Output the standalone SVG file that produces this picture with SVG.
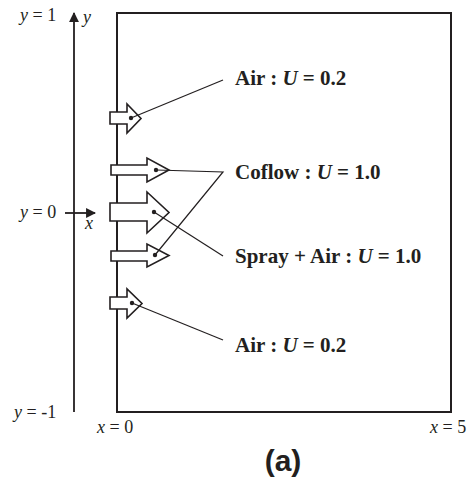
<svg xmlns="http://www.w3.org/2000/svg" width="472" height="480" viewBox="0 0 472 480">
<style>
.ln{stroke:#231f20;fill:none}
.ax{stroke:#231f20;stroke-width:1.8;fill:none}
.jet{stroke:#231f20;stroke-width:1.6;fill:#fff;stroke-linejoin:miter}
.dot{fill:#231f20}
.lead{stroke:#231f20;stroke-width:1.2;fill:none}
.tm{font-family:"Liberation Serif","Times New Roman",serif;font-size:18px;fill:#231f20}
.lb{font-family:"Liberation Serif","Times New Roman",serif;font-size:21px;font-weight:bold;fill:#231f20}
.it{font-style:italic}
.cap{font-family:"Liberation Sans",Arial,sans-serif;font-size:30px;font-weight:bold;fill:#231f20}
</style>
<defs>
<marker id="ah" viewBox="0 0 10 10" refX="9" refY="5" markerWidth="5.5" markerHeight="5.5" orient="auto" markerUnits="strokeWidth">
<path d="M0,0 L10,5 L0,10 z" fill="#231f20"/>
</marker>
</defs>
<g id="domain">
<rect x="117" y="13" width="334" height="399" fill="none" stroke="#231f20" stroke-width="2"/>
</g>
<g id="axes">
<line class="ax" x1="74" y1="412" x2="74" y2="13" marker-end="url(#ah)"/>
<line class="ax" x1="65" y1="213" x2="95" y2="213" marker-end="url(#ah)"/>
<text class="tm" x="20" y="21"><tspan class="it">y</tspan> = 1</text>
<text class="tm it" x="83" y="23">y</text>
<text class="tm" x="20" y="218"><tspan class="it">y</tspan> = 0</text>
<text class="tm it" x="85" y="229">x</text>
<text class="tm" x="14" y="418"><tspan class="it">y</tspan> = -1</text>
<text class="tm" x="97" y="433"><tspan class="it">x</tspan> = 0</text>
<text class="tm" x="430" y="433"><tspan class="it">x</tspan> = 5</text>
</g>
<g id="jet-air-top">
<polygon class="jet" points="110,112 127,112 127,104 141,118.5 127,133 127,124 110,124"/>
<circle class="dot" cx="131" cy="118" r="2.2"/>
</g>
<g id="jet-coflow-top">
<polygon class="jet" points="111,165 147,165 147,158 169,170 147,182 147,175 111,175"/>
<circle class="dot" cx="156" cy="170" r="2.2"/>
</g>
<g id="jet-spray">
<polygon class="jet" points="110,203 147,203 147,192 169,212.5 147,233 147,221 110,221"/>
<circle class="dot" cx="154" cy="212" r="2.2"/>
</g>
<g id="jet-coflow-bottom">
<polygon class="jet" points="111,251 147,251 147,244 169,255.5 147,267 147,261 111,261"/>
<circle class="dot" cx="155" cy="255" r="2.2"/>
</g>
<g id="jet-air-bottom">
<polygon class="jet" points="110,297 127,297 127,289 142,303.5 127,318 127,309 110,309"/>
<circle class="dot" cx="132" cy="303" r="2.2"/>
</g>
<g id="connectors">
<line class="lead" x1="131" y1="118" x2="223" y2="80"/>
<polyline class="lead" points="156,170 223,172 155,255"/>
<line class="lead" x1="154" y1="212" x2="223" y2="256"/>
<line class="lead" x1="132" y1="303" x2="223" y2="340"/>
</g>
<g id="label-air-top">
<text class="lb" x="235" y="85">Air : <tspan class="it">U</tspan> = 0.2</text>
</g>
<g id="label-coflow">
<text class="lb" x="235" y="179">Coflow : <tspan class="it">U</tspan> = 1.0</text>
</g>
<g id="label-spray">
<text class="lb" x="235" y="263">Spray + Air : <tspan class="it">U</tspan> = 1.0</text>
</g>
<g id="label-air-bottom">
<text class="lb" x="235" y="352">Air : <tspan class="it">U</tspan> = 0.2</text>
</g>
<g id="caption">
<text class="cap" x="283" y="471" text-anchor="middle">(a)</text>
</g>
</svg>
